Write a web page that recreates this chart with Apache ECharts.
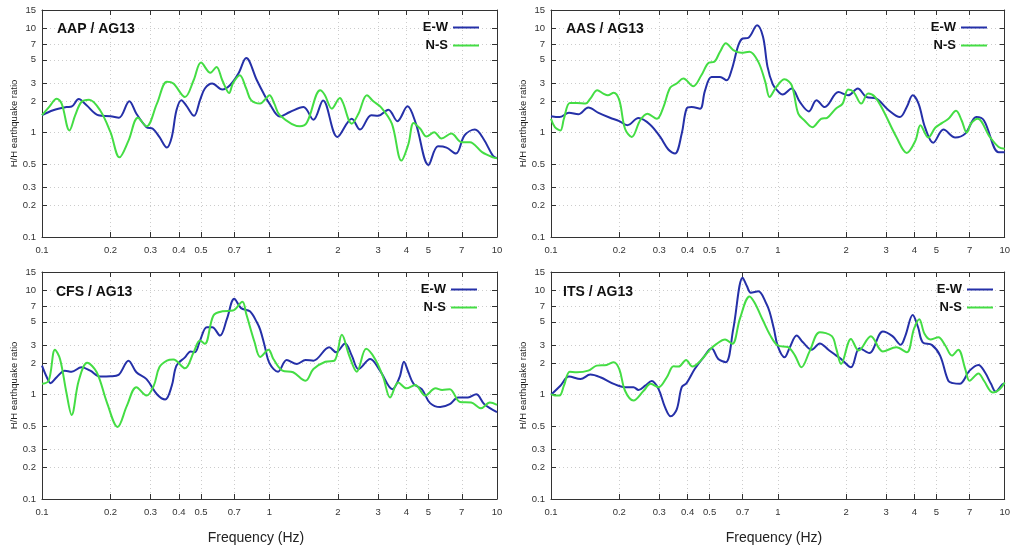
<!DOCTYPE html>
<html><head><meta charset="utf-8">
<script src="https://cdn.jsdelivr.net/npm/echarts@6/dist/echarts.min.js"></script>
<style>html,body{margin:0;padding:0;background:#fff}#c{width:1013px;height:550px}</style>
</head><body><div id="c"></div>
<script>
// Tick values (Hz and ratio)
const xTicks = [0.1,0.2,0.3,0.4,0.5,0.7,1,2,3,4,5,7,10];
const yTicks = [0.1,0.2,0.3,0.5,1,2,3,5,7,10,15];
const xRange = [0.1, 10];
const yRange = [0.1, 15];
const stations = ['AAP / AG13','AAS / AG13','CFS / AG13','ITS / AG13'];
const seriesNames = ['E-W','N-S'];
const xTitle = 'Frequency (Hz)';
const yTitle = 'H/H earthquake ratio';

// [frequency Hz, H/H ratio]
const aapEW = [[0.1,1.47],[0.112,1.64],[0.128,1.76],[0.135,1.78],[0.145,2.1],[0.157,1.83],[0.177,1.47],[0.2,1.44],[0.218,1.39],[0.242,2.0],[0.26,1.52],[0.288,1.13],[0.307,1.09],[0.328,0.91],[0.354,0.72],[0.372,0.91],[0.39,1.64],[0.41,2.05],[0.43,1.83],[0.466,1.45],[0.495,2.05],[0.52,2.65],[0.56,2.96],[0.62,2.6],[0.67,2.85],[0.73,3.69],[0.79,5.2],[0.88,3.18],[0.94,2.4],[1.0,1.9],[1.11,1.43],[1.23,1.58],[1.41,1.76],[1.56,1.33],[1.72,2.04],[1.99,0.91],[2.3,1.36],[2.5,1.07],[2.8,1.47],[3.0,1.45],[3.33,1.66],[3.65,1.29],[4.04,1.79],[4.4,1.22],[5.0,0.49],[5.5,0.74],[6.0,0.72],[6.6,0.63],[7.2,0.94],[8.0,1.07],[8.7,0.88],[9.6,0.6],[10,0.57]];
const aapNS = [[0.1,1.47],[0.108,1.79],[0.116,2.12],[0.122,1.9],[0.132,1.05],[0.14,1.47],[0.149,1.97],[0.161,2.07],[0.18,1.64],[0.2,1.01],[0.219,0.58],[0.24,0.84],[0.264,1.39],[0.288,1.15],[0.32,1.9],[0.354,3.07],[0.378,2.96],[0.425,2.2],[0.464,3.18],[0.5,4.7],[0.55,3.75],[0.585,4.27],[0.62,3.18],[0.665,2.4],[0.69,2.96],[0.74,3.55],[0.79,2.65],[0.83,2.05],[0.91,1.9],[0.96,2.1],[1.0,2.28],[1.05,1.9],[1.11,1.47],[1.36,1.15],[1.46,1.25],[1.67,2.55],[1.75,2.3],[1.88,1.7],[2.04,2.15],[2.1,1.95],[2.3,1.22],[2.46,1.52],[2.68,2.28],[2.86,2.0],[3.1,1.74],[3.45,1.22],[3.8,0.54],[4.08,0.78],[4.3,1.24],[4.6,1.09],[4.9,0.92],[5.3,1.01],[5.7,0.88],[6.3,0.98],[7.0,0.81],[7.6,0.81],[8.6,0.65],[9.6,0.58],[10,0.57]];
const aasEW = [[0.1,1.44],[0.109,1.41],[0.12,1.55],[0.132,1.5],[0.146,1.74],[0.162,1.55],[0.182,1.39],[0.2,1.29],[0.217,1.18],[0.243,1.38],[0.273,1.2],[0.303,0.91],[0.329,0.69],[0.352,0.63],[0.377,0.98],[0.396,1.7],[0.417,1.76],[0.454,1.7],[0.477,2.52],[0.51,3.42],[0.556,3.42],[0.595,3.18],[0.625,3.97],[0.67,6.9],[0.7,8.0],[0.74,8.1],[0.81,10.7],[0.86,8.3],[0.9,4.3],[0.95,2.9],[1.0,2.5],[1.05,2.32],[1.15,2.65],[1.25,1.97],[1.37,1.6],[1.48,2.05],[1.61,1.76],[1.85,2.45],[2.04,2.28],[2.25,2.65],[2.45,2.2],[2.72,2.12],[3.06,1.66],[3.45,1.41],[3.7,1.76],[3.93,2.28],[4.17,1.9],[4.45,1.13],[4.84,0.8],[5.37,1.07],[6.05,0.9],[6.7,0.98],[7.5,1.41],[8.1,1.31],[9.4,0.65],[10,0.65]];
const aasNS = [[0.1,1.36],[0.104,1.13],[0.11,1.05],[0.114,1.36],[0.121,1.93],[0.13,1.93],[0.142,1.9],[0.149,2.12],[0.16,2.55],[0.17,2.37],[0.178,2.28],[0.189,2.42],[0.2,2.05],[0.212,1.09],[0.227,0.91],[0.247,1.31],[0.266,1.52],[0.293,1.36],[0.313,1.76],[0.335,2.69],[0.358,2.96],[0.383,3.3],[0.424,2.79],[0.46,3.55],[0.497,4.7],[0.523,4.77],[0.556,5.97],[0.59,7.2],[0.636,6.2],[0.69,5.84],[0.75,5.97],[0.82,4.77],[0.88,3.07],[0.92,2.2],[0.985,2.75],[1.07,3.25],[1.15,2.85],[1.23,1.52],[1.31,1.31],[1.42,1.13],[1.55,1.36],[1.65,1.39],[1.8,1.7],[1.93,1.9],[2.04,2.6],[2.16,2.45],[2.33,1.9],[2.5,2.37],[2.68,2.2],[2.91,1.64],[3.33,0.91],[3.7,0.64],[4.04,0.84],[4.25,1.18],[4.6,0.9],[4.95,1.12],[5.3,1.24],[5.65,1.36],[6.1,1.62],[6.46,1.31],[6.8,1.0],[7.1,1.22],[7.6,1.36],[8.6,0.91],[9.4,0.73],[10,0.7]];
const cfsEW = [[0.1,1.9],[0.105,1.47],[0.109,1.29],[0.116,1.47],[0.126,1.7],[0.135,1.66],[0.149,1.83],[0.163,1.7],[0.18,1.49],[0.2,1.5],[0.217,1.55],[0.24,2.12],[0.26,1.64],[0.288,1.41],[0.32,1.01],[0.348,0.9],[0.372,1.22],[0.39,1.9],[0.425,2.28],[0.45,2.6],[0.47,2.55],[0.495,3.3],[0.53,4.43],[0.56,4.43],[0.606,3.69],[0.65,5.34],[0.7,8.3],[0.75,6.76],[0.82,6.3],[0.88,4.95],[0.91,4.2],[0.95,3.0],[1.0,2.0],[1.09,1.66],[1.19,2.15],[1.32,1.97],[1.44,2.15],[1.56,2.12],[1.83,2.85],[1.96,2.55],[2.15,3.1],[2.3,2.37],[2.46,1.76],[2.77,2.2],[3.06,1.7],[3.47,1.13],[3.73,1.47],[3.9,2.07],[4.08,1.64],[4.3,1.27],[4.67,1.13],[5.08,0.83],[5.63,0.76],[6.2,0.81],[6.75,0.94],[7.45,0.94],[8.1,1.01],[8.8,0.81],[10,0.68]];
const cfsNS = [[0.1,1.27],[0.107,1.36],[0.114,2.7],[0.12,2.2],[0.128,1.05],[0.135,0.64],[0.145,1.36],[0.158,2.02],[0.174,1.64],[0.193,0.84],[0.215,0.49],[0.236,0.78],[0.26,1.18],[0.288,0.98],[0.31,1.22],[0.328,1.83],[0.354,2.12],[0.378,2.17],[0.425,1.79],[0.464,2.55],[0.495,3.3],[0.52,3.07],[0.567,5.75],[0.62,6.3],[0.69,6.4],[0.76,7.8],[0.79,5.97],[0.86,3.18],[0.91,2.3],[0.99,2.7],[1.04,2.2],[1.14,1.7],[1.27,1.64],[1.44,1.36],[1.56,1.76],[1.76,2.07],[1.93,2.12],[2.08,3.75],[2.24,2.37],[2.42,1.66],[2.66,2.75],[2.91,2.2],[3.16,1.47],[3.39,0.94],[3.68,1.31],[4.0,1.15],[4.37,1.24],[4.83,0.98],[5.37,1.15],[5.74,1.11],[6.2,1.13],[6.88,0.85],[7.7,0.84],[8.5,0.74],[9.3,0.84],[10,0.8]];
const itsEW = [[0.1,1.0],[0.11,1.22],[0.12,1.49],[0.135,1.41],[0.149,1.56],[0.165,1.47],[0.189,1.27],[0.212,1.18],[0.231,1.18],[0.243,1.11],[0.26,1.22],[0.278,1.35],[0.298,1.13],[0.318,0.76],[0.337,0.62],[0.358,0.72],[0.377,1.18],[0.396,1.29],[0.43,1.76],[0.47,2.28],[0.51,2.79],[0.546,2.2],[0.59,2.05],[0.636,4.27],[0.7,13.2],[0.73,11.0],[0.76,9.5],[0.82,9.8],[0.89,7.45],[0.92,6.2],[0.96,4.3],[1.0,2.9],[1.07,2.28],[1.13,2.85],[1.21,3.69],[1.29,3.18],[1.41,2.7],[1.53,3.1],[1.67,2.7],[1.81,2.37],[1.9,2.2],[2.1,1.83],[2.29,2.79],[2.53,2.51],[2.9,4.03],[3.2,3.64],[3.48,3.01],[3.65,3.69],[3.93,5.8],[4.15,4.43],[4.35,3.18],[4.77,3.0],[5.19,2.37],[5.64,1.36],[5.92,1.29],[6.33,1.27],[7.0,1.7],[7.66,1.93],[8.18,1.64],[8.7,1.27],[9.13,1.07],[9.75,1.25],[10,1.27]];
const itsNS = [[0.1,1.01],[0.104,0.98],[0.109,0.98],[0.114,1.22],[0.121,1.66],[0.13,1.64],[0.146,1.7],[0.159,1.9],[0.176,1.93],[0.189,2.05],[0.2,1.76],[0.212,1.09],[0.231,0.88],[0.256,1.09],[0.275,1.27],[0.298,1.18],[0.324,1.47],[0.347,1.87],[0.365,1.86],[0.394,2.15],[0.42,1.86],[0.457,2.12],[0.502,2.7],[0.537,3.07],[0.585,3.38],[0.63,3.07],[0.68,5.34],[0.75,8.75],[0.79,7.6],[0.86,5.14],[0.92,3.8],[1.0,2.96],[1.11,2.85],[1.19,2.37],[1.27,1.83],[1.38,2.6],[1.53,3.97],[1.73,3.64],[1.81,2.75],[1.9,1.97],[2.1,3.42],[2.27,2.65],[2.57,3.64],[2.9,2.6],[3.33,2.85],[3.7,2.55],[3.98,4.27],[4.2,5.3],[4.43,3.83],[4.7,3.38],[5.1,3.55],[5.47,2.96],[5.85,2.37],[6.24,2.7],[6.7,1.76],[7.0,1.36],[7.66,1.6],[8.1,1.36],[8.86,1.05],[9.5,1.13],[10,1.31]];

const panelData = [[aapEW, aapNS],[aasEW, aasNS],[cfsEW, cfsNS],[itsEW, itsNS]];

// Layout / style
const colors = ['#2530a8', '#44dd44'];
const grids = [
  {left:42, top:10, width:455, height:227},
  {left:551, top:10, width:455, height:227},
  {left:42, top:272, width:455, height:227},
  {left:551, top:272, width:455, height:227}
];
const titlePos = [[57,22],[566,22],[56,285],[563,285]];
const legendPos = [[534,21],[26,21],[536,283],[20,283]];
const xNamePos = [[256,538],[774,538]];

const L = Math.log10;
const fmt = v => String(+Math.pow(10, v).toPrecision(2));
const xT = xTicks.map(L), yT = yTicks.map(L);
const frame = {show:true, onZero:false, lineStyle:{color:'#333', width:1}};
const tickIn = vals => ({show:true, inside:true, length:5, lineStyle:{color:'#333'}, customValues: vals});
const lblFont = {fontSize:9.5, color:'#333', fontFamily:'Liberation Sans, Arial, sans-serif'};
const gridLine = {show:true, lineStyle:{color:'#cccccc', type:[1,3], width:1}};

const xAxis = [], yAxis = [], series = [], title = [], legend = [], graphic = [];
grids.forEach((g, i) => {
  xAxis.push({type:'value', gridIndex:i, position:'bottom', min:L(xRange[0]), max:L(xRange[1]),
    axisLine:frame, axisTick:tickIn(xT), splitLine:gridLine,
    axisLabel:Object.assign({show:true, margin:8, customValues:xT, formatter:fmt, showMinLabel:true, showMaxLabel:true}, lblFont)});
  xAxis.push({type:'value', gridIndex:i, position:'top', min:L(xRange[0]), max:L(xRange[1]),
    axisLine:frame, axisTick:tickIn(xT), splitLine:{show:false}, axisLabel:{show:false}});
  yAxis.push({type:'value', gridIndex:i, position:'left', min:L(yRange[0]), max:L(yRange[1]),
    axisLine:frame, axisTick:tickIn(yT), splitLine:gridLine,
    name:yTitle, nameLocation:'middle', nameRotate:90, nameGap:20,
    nameTextStyle:{fontSize:9.5, color:'#222', fontFamily:'Liberation Sans, Arial, sans-serif'},
    axisLabel:Object.assign({show:true, margin:6, customValues:yT, formatter:fmt, showMinLabel:true, showMaxLabel:true}, lblFont)});
  yAxis.push({type:'value', gridIndex:i, position:'right', min:L(yRange[0]), max:L(yRange[1]),
    axisLine:frame, axisTick:tickIn(yT), splitLine:{show:false}, axisLabel:{show:false}});
  panelData[i].forEach((d, k) => {
    series.push({type:'line', name:seriesNames[k], xAxisIndex:2*i, yAxisIndex:2*i,
      data:d.map(p => [L(p[0]), L(p[1])]), smooth:0.35, showSymbol:false, symbol:'none',
      lineStyle:{width:2, color:colors[k]}, itemStyle:{color:colors[k]}, emphasis:{disabled:true}, z:2+k});
  });
  title.push({text:stations[i], left:titlePos[i][0], top:titlePos[i][1], padding:0,
    textStyle:{fontSize:14, fontWeight:'bold', color:'#111', fontFamily:'Liberation Sans, Arial, sans-serif'}});
  legend.push({data:seriesNames, orient:'vertical', align:'right', right:legendPos[i][0], top:legendPos[i][1],
    padding:0, itemWidth:26, itemHeight:2, itemGap:5, icon:'rect', selectedMode:false,
    textStyle:{fontSize:13, fontWeight:'bold', color:'#111', fontFamily:'Liberation Sans, Arial, sans-serif'}});
});
xNamePos.forEach(p => graphic.push({type:'text', x:p[0], y:p[1],
  style:{text:xTitle, fontSize:14, fill:'#222', align:'center', verticalAlign:'middle', fontFamily:'Liberation Sans, Arial, sans-serif'}}));

const chart = echarts.init(document.getElementById('c'), null, {renderer:'canvas'});
chart.setOption({backgroundColor:'#fff', animation:false, grid:grids, xAxis, yAxis, series, title, legend, graphic});
</script></body></html>
